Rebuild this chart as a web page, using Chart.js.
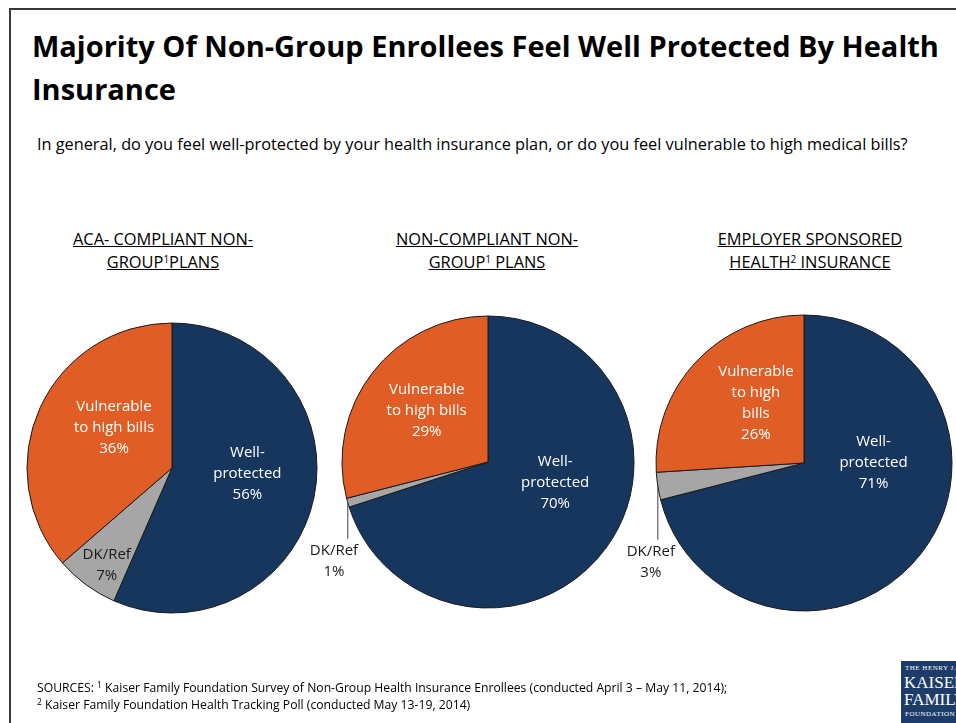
<!DOCTYPE html>
<html>
<head>
<meta charset="utf-8">
<title>Majority Of Non-Group Enrollees Feel Well Protected By Health Insurance</title>
<script src="https://cdn.jsdelivr.net/npm/chart.js@4.4.0/dist/chart.umd.min.js"></script>
<style>
  html, body { margin: 0; padding: 0; background: #fff; }
  body {
    width: 956px; height: 723px; position: relative; overflow: hidden;
    font-family: "Open Sans", Lato, sans-serif; color: #000;
  }
  .frame {
    position: absolute; left: 9px; top: 8px; width: 1000px; height: 800px;
    border-left: 2px solid #3a3a3a; border-top: 2px solid #3a3a3a;
  }
  h1 {
    position: absolute; left: 32px; top: 24px; margin: 0; width: 918px;
    font-size: 29px; line-height: 43px; font-weight: 700;
  }
  .question { position: absolute; left: 37px; top: 134px; font-size: 16.3px; line-height: 20px; white-space: nowrap; }
  .group {
    position: absolute; width: 260px; text-align: center;
    font-size: 16.4px; line-height: 23px; text-decoration: underline;
  }
  .group sup { font-size: 10px; line-height: 0; vertical-align: 5px; }
  canvas { position: absolute; left: 0; top: 0; }
  .sources { position: absolute; left: 37px; top: 679px; font-size: 12.2px; line-height: 17px; white-space: nowrap; }
  .sources sup { font-size: 8.5px; line-height: 0; vertical-align: 4px; }
  .logo {
    position: absolute; left: 901px; top: 661px; width: 70px; height: 70px;
    background: #1d3c6a; color: #fff; font-family: "Liberation Serif", "DejaVu Serif", serif;
  }
  .logo .s { position: absolute; left: 4px; font-size: 7px; letter-spacing: 0.5px; white-space: nowrap; }
  .logo .b { position: absolute; left: 3px; font-size: 17px; line-height: 17px; white-space: nowrap; }
</style>
</head>
<body>
<div class="frame"></div>
<h1>Majority Of Non-Group Enrollees Feel Well Protected By Health Insurance</h1>
<div class="question">In general, do you feel well-protected by your health insurance plan, or do you feel vulnerable to high medical bills?</div>

<div class="group" style="left:33px; top:227px;">ACA- COMPLIANT NON-<br>GROUP<sup>1</sup>PLANS</div>
<div class="group" style="left:357px; top:227px;">NON-COMPLIANT NON-<br>GROUP<sup>1</sup> PLANS</div>
<div class="group" style="left:680px; top:227px;">EMPLOYER SPONSORED<br>HEALTH<sup>2</sup> INSURANCE</div>

<canvas id="pieAca" width="956" height="723"></canvas>
<canvas id="pieNonCompliant" width="956" height="723"></canvas>
<canvas id="pieEmployer" width="956" height="723"></canvas>

<div class="sources">SOURCES: <sup>1</sup> Kaiser Family Foundation Survey of Non-Group Health Insurance Enrollees (conducted April 3 – May 11, 2014);<br><sup>2</sup> Kaiser Family Foundation Health Tracking Poll (conducted May 13-19, 2014)</div>

<div class="logo">
  <div class="s" style="top:3px;">THE HENRY J.</div>
  <div class="b" style="top:13px;">KAISER</div>
  <div class="b" style="top:30px;">FAMILY</div>
  <div class="s" style="top:49px;">FOUNDATION</div>
</div>

<script>
// Survey answers, in drawing order clockwise from 12 o'clock
const categories = ['Well-protected', 'DK/Ref', 'Vulnerable to high bills'];

// Percent of respondents per group
const acaCompliantValues = [56, 7, 36];
const nonCompliantValues = [70, 1, 29];
const employerValues = [71, 3, 26];

const SLICE_COLORS = ['#17365d', '#a6a6a6', '#e05e26'];
const LABEL_FONT = '15px "Open Sans", Lato, sans-serif';
const LINE_HEIGHT = 21;
const PAGE_W = 956, PAGE_H = 723;

// Draws the in-slice / outside labels; the percentage always comes from the data value.
const sliceLabelPlugin = {
  id: 'sliceLabels',
  afterDatasetsDraw(chart, args, opts) {
    const ctx = chart.ctx;
    const values = chart.data.datasets[0].data;
    chart.getDatasetMeta(0).data.forEach((arc, i) => {
      const spec = opts.specs[i];
      const p = arc.getProps(['x', 'y', 'outerRadius', 'startAngle', 'endAngle'], true);
      const lx = p.x + spec.at[0] * p.outerRadius;
      const ly = p.y + spec.at[1] * p.outerRadius;
      const lines = spec.lines.concat([values[i] + '%']);
      const top = ly - (lines.length - 1) * LINE_HEIGHT / 2;
      ctx.save();
      ctx.font = LABEL_FONT;
      ctx.fillStyle = spec.color;
      ctx.textAlign = 'center';
      ctx.textBaseline = 'middle';
      lines.forEach((t, k) => ctx.fillText(t, lx, top + k * LINE_HEIGHT));
      if (spec.leader) {
        const mid = (p.startAngle + p.endAngle) / 2;
        const ex = p.x + Math.cos(mid) * p.outerRadius;
        const ey = p.y + Math.sin(mid) * p.outerRadius;
        ctx.strokeStyle = '#404040';
        ctx.lineWidth = 1;
        ctx.beginPath();
        ctx.moveTo(ex, ey);
        ctx.lineTo(ex, top - 12);
        ctx.stroke();
      }
      ctx.restore();
    });
  }
};

function makePie(id, values, place, specs) {
  const { cx, cy, r } = place;
  const m = 4;
  return new Chart(document.getElementById(id), {
    type: 'pie',
    data: {
      labels: categories,
      datasets: [{
        data: values,
        backgroundColor: SLICE_COLORS,
        borderColor: '#1a1a1a',
        borderWidth: 1
      }]
    },
    options: {
      responsive: false,
      animation: false,
      events: [],
      radius: r,
      layout: {
        padding: { left: cx - r - m, right: PAGE_W - cx - r - m, top: cy - r - m, bottom: PAGE_H - cy - r - m }
      },
      plugins: {
        legend: { display: false },
        tooltip: { enabled: false },
        sliceLabels: { specs }
      }
    },
    plugins: [sliceLabelPlugin]
  });
}

makePie('pieAca', acaCompliantValues, { cx: 172, cy: 468, r: 145 }, [
  { lines: ['Well-', 'protected'], at: [0.52, 0.04], color: '#ffffff' },
  { lines: ['DK/Ref'], at: [-0.45, 0.67], color: '#1a1a1a' },
  { lines: ['Vulnerable', 'to high bills'], at: [-0.40, -0.28], color: '#ffffff' }
]);

makePie('pieNonCompliant', nonCompliantValues, { cx: 488, cy: 462, r: 146 }, [
  { lines: ['Well-', 'protected'], at: [0.46, 0.14], color: '#ffffff' },
  { lines: ['DK/Ref'], at: [-1.055, 0.68], color: '#1a1a1a', leader: true },
  { lines: ['Vulnerable', 'to high bills'], at: [-0.42, -0.35], color: '#ffffff' }
]);

makePie('pieEmployer', employerValues, { cx: 804, cy: 463, r: 148 }, [
  { lines: ['Well-', 'protected'], at: [0.47, 0.0], color: '#ffffff' },
  { lines: ['DK/Ref'], at: [-1.035, 0.67], color: '#1a1a1a', leader: true },
  { lines: ['Vulnerable', 'to high', 'bills'], at: [-0.325, -0.405], color: '#ffffff' }
]);
</script>
</body>
</html>
